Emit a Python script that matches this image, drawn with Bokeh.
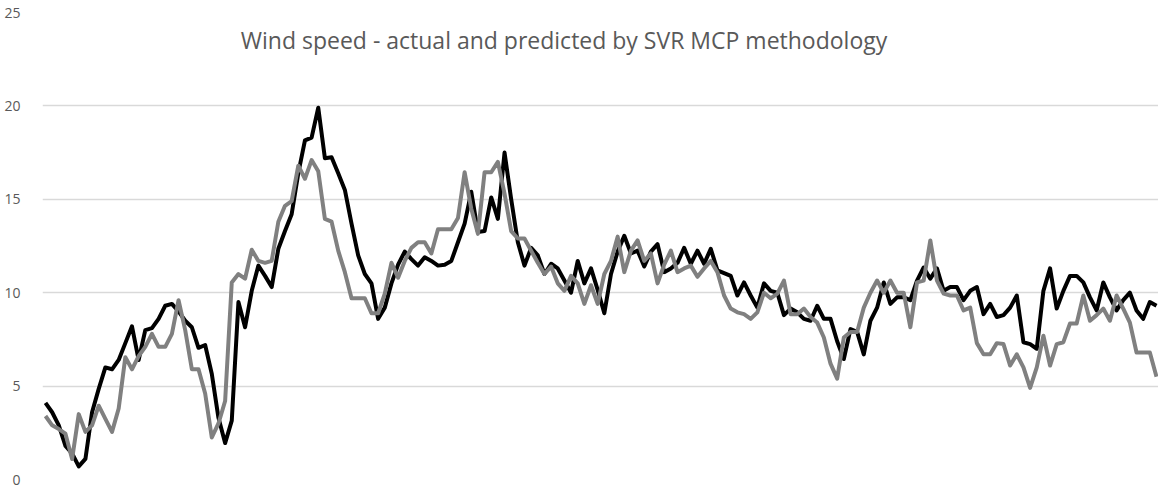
from bokeh.plotting import figure
from bokeh.models import Range1d, Label
from bokeh.embed import file_html
from bokeh.resources import INLINE

title_text = "Wind speed - actual and predicted by SVR MCP methodology"

actual = [4.1, 3.6, 2.9, 1.8, 1.4, 0.7, 1.1, 3.6, 4.85, 6.0, 5.9, 6.4, 7.3, 8.2, 6.4, 8.0, 8.1, 8.6, 9.3, 9.4,
          9.0, 8.5, 8.15, 7.05, 7.2, 5.65, 3.3, 1.95, 3.15, 9.5, 8.15, 10.1, 11.45, 10.9, 10.3, 12.35, 13.3, 14.2, 16.4, 18.15,
          18.3, 19.9, 17.2, 17.25, 16.4, 15.5, 13.7, 12.0, 11.0, 10.5, 8.6, 9.2, 10.5, 11.5, 12.2, 11.8, 11.45, 11.9, 11.7, 11.45,
          11.5, 11.7, 12.7, 13.7, 15.4, 13.25, 13.3, 15.1, 13.95, 17.5, 15.0, 12.7, 11.45, 12.4, 12.0, 11.0, 11.55, 11.3, 10.65, 10.0,
          11.7, 10.5, 11.3, 10.15, 8.9, 11.0, 12.2, 13.05, 12.1, 12.25, 11.4, 12.2, 12.6, 11.1, 11.3, 11.6, 12.4, 11.55, 12.25, 11.55,
          12.35, 11.2, 11.05, 10.9, 9.85, 10.55, 9.85, 9.2, 10.5, 10.1, 10.0, 8.8, 9.15, 8.95, 8.6, 8.5, 9.3, 8.6, 8.6, 7.4,
          6.45, 8.05, 7.9, 6.7, 8.5, 9.2, 10.55, 9.4, 9.75, 9.75, 9.6, 10.65, 11.35, 10.75, 11.3, 10.1, 10.3, 10.3, 9.6, 10.1,
          10.3, 8.85, 9.4, 8.7, 8.8, 9.2, 9.85, 7.35, 7.25, 7.0, 10.1, 11.3, 9.15, 10.1, 10.9, 10.9, 10.55, 9.75, 9.05, 10.55,
          9.75, 9.05, 9.6, 10.0, 9.05, 8.6, 9.5, 9.3]

predicted = [3.4, 2.9, 2.7, 2.45, 1.1, 3.5, 2.55, 2.9, 3.95, 3.25, 2.55, 3.8, 6.55, 5.9, 6.6, 7.1, 7.8, 7.1, 7.1, 7.8,
             9.6, 8.0, 5.9, 5.9, 4.6, 2.25, 3.0, 4.2, 10.55, 11.0, 10.75, 12.3, 11.7, 11.6, 11.7, 13.8, 14.65, 14.9, 16.8, 16.1,
             17.1, 16.5, 13.95, 13.8, 12.25, 11.1, 9.7, 9.7, 9.7, 8.9, 8.9, 9.95, 11.6, 10.8, 11.7, 12.4, 12.7, 12.7, 12.1, 13.4,
             13.4, 13.4, 14.0, 16.45, 14.5, 13.15, 16.45, 16.45, 17.0, 15.3, 13.3, 12.9, 12.9, 12.25, 11.6, 11.0, 11.4, 10.5, 10.1, 10.9,
             10.5, 9.4, 10.4, 9.4, 11.0, 11.7, 13.0, 11.1, 12.25, 12.8, 11.7, 12.1, 10.5, 11.5, 12.25, 11.1, 11.3, 11.45, 10.85, 11.3,
             11.7, 11.1, 9.85, 9.15, 8.95, 8.85, 8.6, 8.95, 10.0, 9.7, 9.95, 10.65, 8.85, 8.85, 9.15, 8.7, 8.4, 7.6, 6.2, 5.4,
             7.6, 7.9, 7.9, 9.2, 10.0, 10.65, 10.0, 10.65, 10.0, 10.0, 8.15, 10.55, 10.65, 12.8, 10.65, 9.95, 9.85, 9.85, 9.05, 9.2,
             7.3, 6.7, 6.7, 7.3, 7.25, 6.1, 6.7, 6.0, 4.9, 6.0, 7.7, 6.1, 7.25, 7.35, 8.35, 8.35, 9.85, 8.5, 8.8, 9.15,
             8.5, 9.85, 9.15, 8.4, 6.8, 6.8, 6.8, 5.5]

index = list(range(len(actual)))
y_ticks = [0, 5, 10, 15, 20, 25]

p = figure(width=1158, height=487, output_backend="svg", toolbar_location=None,
           x_range=Range1d(-0.45, 167.3), y_range=Range1d(0, 25),
           min_border_left=42, min_border_right=0, min_border_top=12, min_border_bottom=8)
p.outline_line_color = None
p.background_fill_color = "white"
p.border_fill_color = "white"

p.xaxis.visible = False
p.xgrid.grid_line_color = None
p.ygrid.grid_line_color = "#d9d9d9"
p.ygrid.grid_line_width = 1.3

p.yaxis.ticker = y_ticks
p.yaxis.axis_line_color = None
p.yaxis.major_tick_line_color = None
p.yaxis.minor_tick_line_color = None
p.yaxis.major_label_text_font = "Open Sans"
p.yaxis.major_label_text_font_size = "14px"
p.yaxis.major_label_text_color = "#595959"
p.yaxis.major_label_standoff = 16

p.line(index, actual, line_color="#000000", line_width=4, line_join="round")
p.line(index, predicted, line_color="#808080", line_width=4, line_join="round")

p.add_layout(Label(x=77.94, y=23.53, text=title_text, text_align="center", text_baseline="middle",
                   text_font="Open Sans", text_font_size="23px", text_color="#595959"))

open("out.html", "w").write(file_html(p, INLINE))
